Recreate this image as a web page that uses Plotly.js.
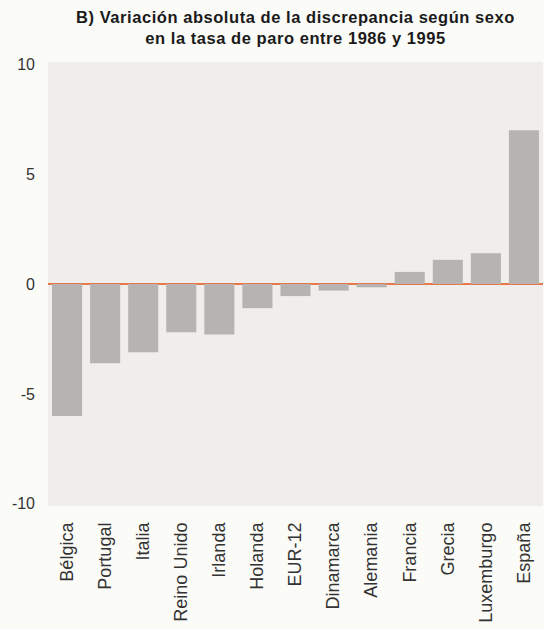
<!DOCTYPE html>
<html>
<head>
<meta charset="utf-8">
<script src="https://cdn.plot.ly/plotly-3.0.1.min.js"></script>
<style>
html,body{margin:0;padding:0;background:#fbfbf8;}
#chart{width:544px;height:629px;}
#chart .gtitle{letter-spacing:0.55px;}
</style>
</head>
<body>
<div id="chart"></div>
<script>
const categories = ["Bélgica","Portugal","Italia","Reino Unido","Irlanda","Holanda","EUR-12","Dinamarca","Alemania","Francia","Grecia","Luxemburgo","España"];
const values = [-6.0,-3.6,-3.1,-2.2,-2.3,-1.1,-0.55,-0.3,-0.15,0.55,1.1,1.4,7.0];
const yTicks = [-10,-5,0,5,10];

const trace = {
  type: "bar",
  x: categories,
  y: values,
  marker: {color: "#b5b4b2", line: {width: 0}},
  width: 0.79,
  hoverinfo: "x+y"
};

const layout = {
  width: 544,
  height: 629,
  paper_bgcolor: "#fbfbf8",
  plot_bgcolor: "#efeeea",
  margin: {l: 48, r: 1, t: 62, b: 123},
  showlegend: false,
  title: {
    text: "<b>B) Variación absoluta de la discrepancia según sexo<br>en la tasa de paro entre 1986 y 1995</b>",
    font: {family: "Liberation Sans, Arial, sans-serif", size: 16.5, color: "#1a1a1a"},
    x: 0.5, xref: "paper", xanchor: "center",
    y: 0.964, yref: "container", yanchor: "middle"
  },
  xaxis: {
    type: "category",
    range: [-0.5, 12.5],
    tickangle: -90,
    showgrid: false,
    showline: false,
    zeroline: false,
    ticks: "",
    ticklabelstandoff: 12,
    tickfont: {family: "Liberation Sans, Arial, sans-serif", size: 18, color: "#333"}
  },
  yaxis: {
    range: [-10.1, 10.1],
    tickvals: yTicks,
    ticktext: yTicks.map(String),
    showgrid: false,
    showline: false,
    zeroline: true,
    zerolinecolor: "#e8784a",
    zerolinewidth: 1.5,
    ticks: "",
    ticklabelstandoff: 12,
    tickfont: {family: "Liberation Sans, Arial, sans-serif", size: 16, color: "#333"}
  },
  bargap: 0.21
};

Plotly.newPlot("chart", [trace], layout, {displayModeBar: false, staticPlot: true});
</script>
</body>
</html>
